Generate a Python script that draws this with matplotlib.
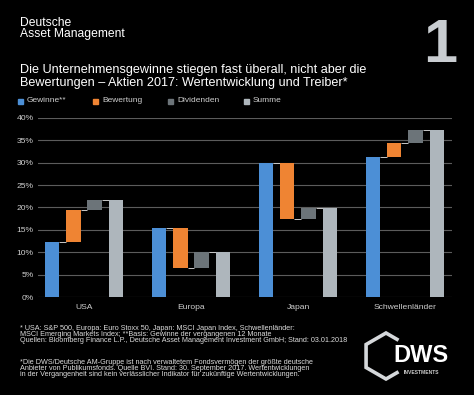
import numpy as np
import matplotlib.pyplot as plt
from matplotlib.lines import Line2D

plt.rcParams['font.family'] = ['Liberation Sans', 'DejaVu Sans']

regions = ["USA", "Europa", "Japan", "Schwellenländer"]
gewinne = [12.4, 15.4, 30.0, 31.3]
bewertung = [7.0, -9.0, -12.5, 3.2]
dividenden = [2.3, 3.6, 2.4, 2.9]
summe = [21.7, 10.0, 19.9, 37.4]
yticks = [0, 5, 10, 15, 20, 25, 30, 35, 40]
series = ["Gewinne**", "Bewertung", "Dividenden", "Summe"]
colors = ["#4c8fd6", "#ef8433", "#6c7479", "#aeb6bc"]

bg = "black"
fig = plt.figure(figsize=(4.74, 3.95), dpi=100, facecolor=bg)
ax = fig.add_axes([0.0802, 0.2481, 0.8734, 0.4532], facecolor=bg)

x = np.arange(len(regions))
step = 0.2
w = 0.135
g = np.array(gewinne)
b = np.array(bewertung)
d = np.array(dividenden)
s = np.array(summe)

lows = [np.zeros_like(g), np.minimum(g, g + b), g + b, np.zeros_like(g)]
highs = [g, np.maximum(g, g + b), g + b + d, s]
for j in range(4):
    ax.bar(x + (j - 1.5) * step, highs[j] - lows[j], w, bottom=lows[j],
           color=colors[j], zorder=3)

# connector lines
levels = [g, g + b, g + b + d]
for j in range(3):
    ax.hlines(levels[j], x + (j - 1.5) * step + w / 2, x + (j - 0.5) * step - w / 2,
              color="#c8c8c8", lw=0.7, zorder=2)

ax.set_xlim(-0.43, 3.44)
ax.set_ylim(0, 40)
ax.set_yticks(yticks)
ax.set_yticklabels([f"{t}%" for t in yticks])
ax.set_xticks(x)
ax.set_xticklabels(regions)
ax.grid(axis="y", color="#5c5c5c", lw=0.8, zorder=0)
ax.tick_params(length=0, colors="#cfcfcf", labelsize=6.1)
ax.tick_params(axis="x", pad=5)
ax.tick_params(axis="y", pad=3)
for sp in ax.spines.values():
    sp.set_visible(False)

# header
fig.text(20 / 474, 1 - 23 / 395, "Deutsche", color="white", fontsize=8.7, va="center")
fig.text(20 / 474, 1 - 34.5 / 395, "Asset Management", color="white", fontsize=8.7, va="center")
fig.text(20 / 474, 1 - 70 / 395, "Die Unternehmensgewinne stiegen fast überall, nicht aber die",
         color="white", fontsize=9.1, va="center")
fig.text(20 / 474, 1 - 83 / 395, "Bewertungen – Aktien 2017: Wertentwicklung und Treiber*",
         color="white", fontsize=9.1, va="center")
fig.text(440 / 474, 1 - 46 / 395, "1", color="#c9cdd1", fontsize=44, fontweight="bold",
         ha="center", va="center")

# legend
leg_x = [20, 95, 170, 246]
for j in range(4):
    fig.patches.append(plt.Rectangle(((leg_x[j] - 2.5) / 474, 1 - 103.5 / 395), 5 / 474, 5 / 395,
                                     transform=fig.transFigure, color=colors[j]))
    fig.text((leg_x[j] + 7) / 474, 1 - 101 / 395, series[j], color="#cfcfcf", fontsize=6.0, va="center")

# footnotes
foot1 = ["* USA: S&P 500, Europa: Euro Stoxx 50, Japan: MSCI Japan Index, Schwellenländer:",
         "MSCI Emerging Markets Index; **Basis: Gewinne der vergangenen 12 Monate",
         "Quellen: Bloomberg Finance L.P., Deutsche Asset Management Investment GmbH; Stand: 03.01.2018"]
foot2 = ["*Die DWS/Deutsche AM-Gruppe ist nach verwaltetem Fondsvermögen der größte deutsche",
         "Anbieter von Publikumsfonds. Quelle BVI. Stand: 30. September 2017. Wertentwicklungen",
         "in der Vergangenheit sind kein verlässlicher Indikator für zukünftige Wertentwicklungen."]
for i, t in enumerate(foot1):
    fig.text(20 / 474, 1 - (328.5 + 6.1 * i) / 395, t, color="#dcdcdc", fontsize=5.2, va="center")
for i, t in enumerate(foot2):
    fig.text(20 / 474, 1 - (362 + 6.1 * i) / 395, t, color="#dcdcdc", fontsize=5.2, va="center")

# DWS logo
cx, cy, r = 386, 356, 23
ang = np.deg2rad(np.array([30, 90, 150, 210, 270, 330]))
hx = cx + r * np.cos(ang)
hy = cy - r * np.sin(ang)
px = [hx[1] + 0.55 * (hx[0] - hx[1]), hx[1], hx[2], hx[3], hx[4], hx[4] + 0.55 * (hx[5] - hx[4])]
py = [hy[1] + 0.55 * (hy[0] - hy[1]), hy[1], hy[2], hy[3], hy[4], hy[4] + 0.55 * (hy[5] - hy[4])]
fig.lines.append(Line2D(np.array(px) / 474, 1 - np.array(py) / 395, transform=fig.transFigure,
                        color="#d5d8db", lw=2.6, solid_joinstyle="miter"))
fig.text(421 / 474, 1 - 355 / 395, "DWS", color="white", fontsize=17, fontweight="bold",
         ha="center", va="center")
fig.text(421 / 474, 1 - 372.5 / 395, "INVESTMENTS", color="#cfcfcf", fontsize=3.6,
         fontweight="bold", ha="center", va="center")

fig.savefig("out.png", dpi=100, facecolor=bg)
